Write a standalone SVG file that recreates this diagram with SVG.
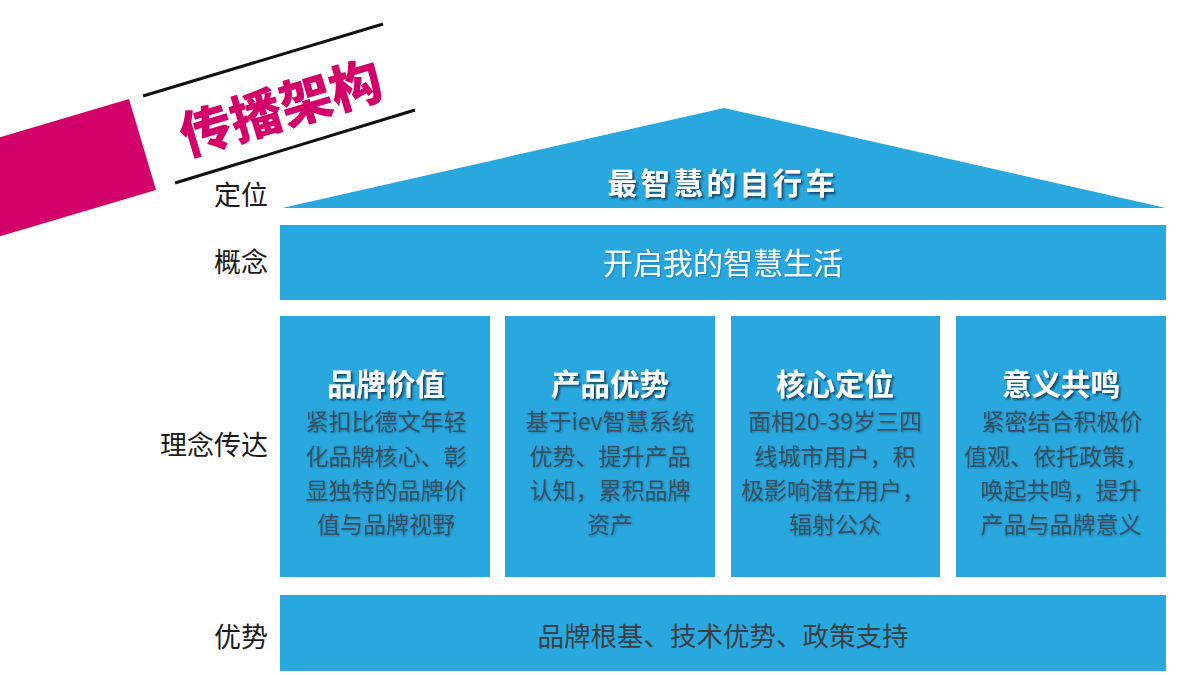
<svg xmlns="http://www.w3.org/2000/svg" width="1200" height="675" viewBox="0 0 1200 675">
<defs>
<filter id="sh" x="-10%" y="-30%" width="130%" height="170%">
<feDropShadow dx="2" dy="2" stdDeviation="1" flood-color="#0b3550" flood-opacity="0.85"/>
</filter>
<filter id="sh2" x="-10%" y="-30%" width="130%" height="170%">
<feDropShadow dx="1" dy="1" stdDeviation="0.8" flood-color="#0b3550" flood-opacity="0.35"/>
</filter>
<style>
.blue{fill:#29A8E0}
.lbl{font-family:"Noto Sans CJK SC","Noto Sans",sans-serif;font-size:27px;fill:#1a1a1a;text-anchor:end}
.ttl{font-family:"Noto Sans CJK SC","Noto Sans",sans-serif;font-size:29.5px;font-weight:700;fill:#ffffff;text-anchor:middle}
.body{font-family:"Noto Sans CJK SC","Noto Sans",sans-serif;font-size:23px;fill:#35505e;text-anchor:middle}
.wt{font-family:"Noto Sans CJK SC","Noto Sans",sans-serif;font-size:30px;fill:#ffffff;text-anchor:middle}
.base{font-family:"Noto Sans CJK SC","Noto Sans",sans-serif;font-size:26.5px;fill:#3a3f44;text-anchor:middle}
</style>
</defs>
<rect width="1200" height="675" fill="#ffffff"/>
<g id="title">
<polygon points="-40,149 129,99 156,190 -13,240" fill="#D20068"/>
<line x1="143" y1="96" x2="383" y2="24" stroke="#111" stroke-width="3"/>
<line x1="175" y1="183" x2="415" y2="110" stroke="#111" stroke-width="3"/>
<text transform="translate(281,108) rotate(-16.7)" x="0" y="19" text-anchor="middle" font-family="'Noto Sans CJK SC','Noto Sans',sans-serif" font-size="52" font-weight="900" fill="#D20068">传播架构</text>
</g>
<g id="labels">
<text class="lbl" x="268" y="205">定位</text>
<text class="lbl" x="268" y="272">概念</text>
<text class="lbl" x="268" y="455">理念传达</text>
<text class="lbl" x="268" y="647">优势</text>
</g>
<g id="roof">
<polygon class="blue" points="282,208 724,108 1166,208"/>
<text class="ttl" x="723" y="194" letter-spacing="3.5" filter="url(#sh)">最智慧的自行车</text>
</g>
<g id="concept">
<rect class="blue" x="280" y="225" width="886" height="75"/>
<text class="wt" x="723" y="274" filter="url(#sh2)">开启我的智慧生活</text>
</g>
<g id="pillar1">
<rect class="blue" x="280" y="316" width="210" height="261"/>
<text class="ttl" x="386" y="395" filter="url(#sh)">品牌价值</text>
<text class="body" filter="url(#sh2)"><tspan x="386" y="430">紧扣比德文年轻</tspan><tspan x="386" y="465">化品牌核心、彰</tspan><tspan x="386" y="499">显独特的品牌价</tspan><tspan x="386" y="533">值与品牌视野</tspan></text>
</g>
<g id="pillar2">
<rect class="blue" x="505" y="316" width="210" height="261"/>
<text class="ttl" x="610" y="395" filter="url(#sh)">产品优势</text>
<text class="body" filter="url(#sh2)"><tspan x="610" y="430">基于iev智慧系统</tspan><tspan x="610" y="465">优势、提升产品</tspan><tspan x="610" y="499">认知，累积品牌</tspan><tspan x="610" y="533">资产</tspan></text>
</g>
<g id="pillar3">
<rect class="blue" x="731" y="316" width="209" height="261"/>
<text class="ttl" x="835" y="395" filter="url(#sh)">核心定位</text>
<text class="body" filter="url(#sh2)"><tspan x="835" y="430">面相20-39岁三四</tspan><tspan x="835" y="465">线城市用户，积</tspan><tspan x="833" y="499">极影响潜在用户，</tspan><tspan x="835" y="533">辐射公众</tspan></text>
</g>
<g id="pillar4">
<rect class="blue" x="956" y="316" width="210" height="261"/>
<text class="ttl" x="1061" y="395" filter="url(#sh)">意义共鸣</text>
<text class="body" filter="url(#sh2)"><tspan x="1062" y="430">紧密结合积极价</tspan><tspan x="1056" y="465">值观、依托政策，</tspan><tspan x="1061" y="499">唤起共鸣，提升</tspan><tspan x="1061" y="533">产品与品牌意义</tspan></text>
</g>
<g id="base">
<rect class="blue" x="280" y="595" width="886" height="76"/>
<text class="base" x="723" y="646">品牌根基、技术优势、政策支持</text>
</g>
<g id="connectors"></g>
</svg>
